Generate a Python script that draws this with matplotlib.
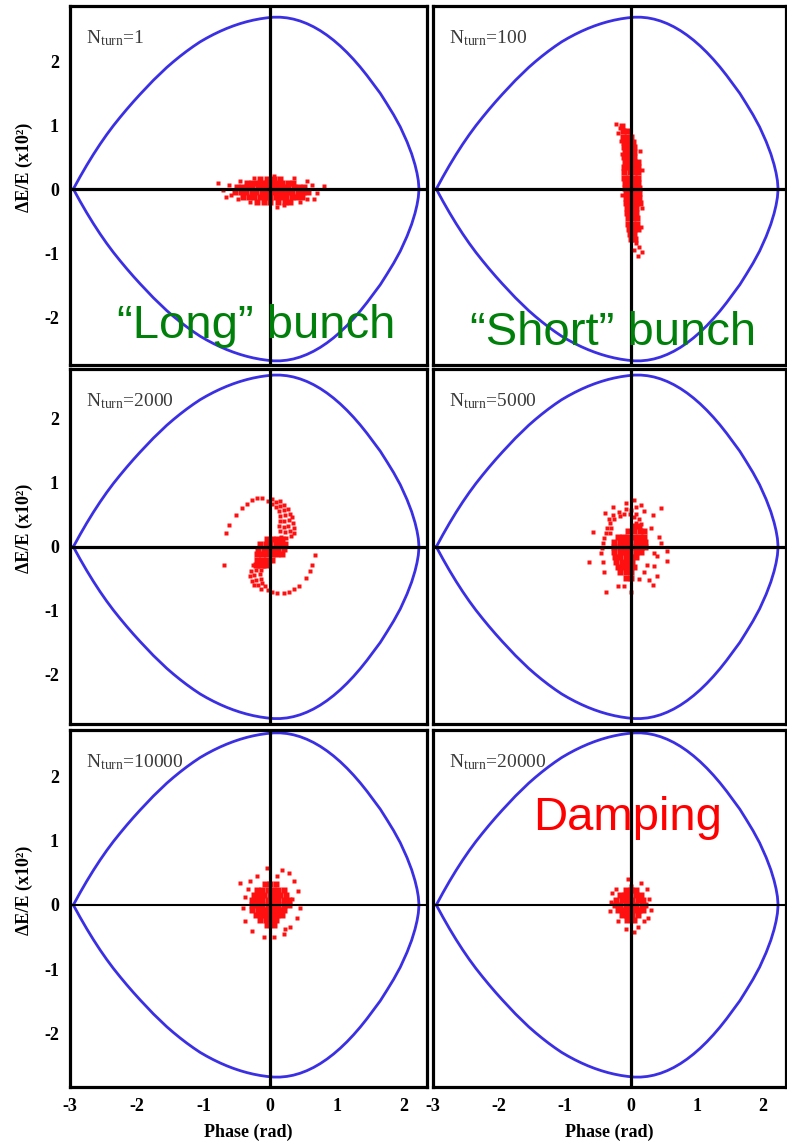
import matplotlib
matplotlib.use('Agg')
import matplotlib.pyplot as plt

plt.rcParams['mathtext.fontset'] = 'custom'
plt.rcParams['mathtext.rm'] = 'Liberation Serif'
plt.rcParams['mathtext.it'] = 'Liberation Serif:italic'
plt.rcParams['mathtext.bf'] = 'Liberation Serif:bold'
plt.rcParams['axes.unicode_minus'] = False

# ---------------- data ----------------
# Separatrix, upper half (phase [rad], dE/E [x1e-2]); lower half is its mirror
SEP_X = [-2.95, -2.85, -2.75, -2.65, -2.55, -2.45, -2.35, -2.25, -2.15, -2.05,
         -1.95, -1.85, -1.75, -1.65, -1.55, -1.45, -1.35, -1.25, -1.15, -1.05,
         -0.95, -0.85, -0.75, -0.65, -0.55, -0.45, -0.35, -0.25, -0.15, -0.05,
         0.05, 0.15, 0.25, 0.35, 0.45, 0.55, 0.65, 0.75, 0.85, 0.95,
         1.05, 1.15, 1.25, 1.35, 1.45, 1.55, 1.65, 1.75, 1.85, 1.95,
         2.05, 2.12, 2.17, 2.20, 2.22, 2.23]
SEP_Y = [0.00, 0.19, 0.37, 0.54, 0.70, 0.85, 0.99, 1.12, 1.245, 1.365,
         1.48, 1.59, 1.70, 1.80, 1.90, 1.99, 2.075, 2.155, 2.23, 2.30,
         2.36, 2.415, 2.465, 2.51, 2.55, 2.585, 2.615, 2.64, 2.66, 2.675,
         2.685, 2.685, 2.675, 2.655, 2.625, 2.585, 2.535, 2.475, 2.405, 2.325,
         2.235, 2.135, 2.025, 1.905, 1.775, 1.635, 1.495, 1.33, 1.16, 0.97,
         0.74, 0.55, 0.38, 0.25, 0.13, 0.00]

TURNS = [1, 100, 2000, 5000, 10000, 20000]
X_TICKS = [-3, -2, -1, 0, 1, 2]
Y_TICKS = [-2, -1, 0, 1, 2]

# dense cores: rows of (y, [x ...])
CORE_1 = [(0.16, [-0.15, -0.05, 0.05, 0.15]),
          (0.10, [-0.35, -0.27, -0.20, -0.12, -0.05, 0.03, 0.10, 0.18, 0.26, 0.34]),
          (0.03, [-0.50, -0.42, -0.34, -0.27, -0.19, -0.11, -0.04, 0.04, 0.11, 0.19, 0.27, 0.35, 0.43, 0.50]),
          (-0.05, [-0.52, -0.44, -0.36, -0.28, -0.21, -0.13, -0.05, 0.02, 0.10, 0.18, 0.25, 0.33, 0.41, 0.49, 0.57]),
          (-0.13, [-0.40, -0.32, -0.24, -0.16, -0.08, 0.00, 0.08, 0.16, 0.24, 0.32, 0.40, 0.47]),
          (-0.20, [-0.20, -0.10, 0.00, 0.12, 0.22, 0.30])]
SPARSE_1 = [(-0.78, 0.10), (-0.70, -0.02), (-0.62, 0.07), (-0.66, -0.12), (-0.58, -0.10),
            (0.62, 0.06), (0.70, -0.06), (0.80, 0.04), (0.66, -0.15), (0.55, 0.12),
            (0.45, -0.20), (0.10, -0.28), (-0.30, -0.20), (0.35, 0.17), (-0.45, 0.12),
            (0.05, 0.20), (-0.25, 0.17), (0.55, -0.16), (-0.48, -0.16), (0.20, -0.25)]

CORE_2 = [(0.98, [-0.14]), (0.90, [-0.12, -0.06]), (0.82, [-0.12, -0.05, 0.00]),
          (0.74, [-0.10, -0.03, 0.03]), (0.66, [-0.10, -0.03, 0.04]),
          (0.58, [-0.09, -0.02, 0.05]), (0.50, [-0.10, -0.03, 0.04]),
          (0.42, [-0.09, -0.02, 0.05, 0.10]), (0.34, [-0.10, -0.03, 0.04, 0.10]),
          (0.26, [-0.10, -0.02, 0.05, 0.11]), (0.18, [-0.10, -0.03, 0.04, 0.11]),
          (0.10, [-0.09, -0.02, 0.05, 0.11]), (0.02, [-0.09, -0.02, 0.05, 0.12]),
          (-0.06, [-0.08, -0.01, 0.06, 0.12]), (-0.14, [-0.08, -0.01, 0.06, 0.12]),
          (-0.22, [-0.07, 0.00, 0.07, 0.13]), (-0.30, [-0.06, 0.01, 0.08]),
          (-0.38, [-0.06, 0.01, 0.08]), (-0.46, [-0.05, 0.02, 0.09]),
          (-0.54, [-0.04, 0.03, 0.09]), (-0.62, [-0.03, 0.04, 0.10]),
          (-0.70, [-0.02, 0.05]), (-0.78, [0.00, 0.06])]
SPARSE_2 = [(-0.22, 1.02), (-0.17, 0.95), (-0.20, 0.88), (0.12, -0.90), (0.16, -0.98),
            (0.08, -0.85), (0.10, -1.05), (0.05, -0.95), (-0.15, 0.75), (0.15, -0.60),
            (-0.14, 0.55), (0.16, 0.30), (0.17, -0.30), (-0.13, -0.10), (0.14, 0.60)]

CORE_3 = [(0.12, [-0.05, 0.03, 0.10, 0.18]),
          (0.04, [-0.15, -0.07, 0.00, 0.08, 0.15, 0.22]),
          (-0.04, [-0.18, -0.10, -0.03, 0.05, 0.12, 0.20]),
          (-0.12, [-0.20, -0.12, -0.05, 0.03, 0.10, 0.17]),
          (-0.20, [-0.20, -0.12, -0.05, 0.02]),
          (-0.28, [-0.22, -0.14, -0.07])]
ARM_3 = [(0.16, 0.16), (0.24, 0.14), (0.31, 0.17), (0.36, 0.22),
         (0.14, 0.24), (0.22, 0.23), (0.29, 0.25), (0.35, 0.29),
         (0.13, 0.32), (0.20, 0.31), (0.27, 0.33), (0.34, 0.37),
         (0.14, 0.40), (0.21, 0.40), (0.28, 0.42), (0.33, 0.46),
         (0.15, 0.48), (0.22, 0.49), (0.29, 0.51),
         (0.13, 0.56), (0.20, 0.57), (0.26, 0.59),
         (0.08, 0.62), (0.15, 0.64), (0.21, 0.66),
         (0.02, 0.67), (0.08, 0.70), (0.14, 0.72), (-0.04, 0.72), (0.03, 0.75),
         (-0.10, -0.30), (-0.18, -0.30), (-0.26, -0.28),
         (-0.14, -0.36), (-0.22, -0.36), (-0.29, -0.38),
         (-0.16, -0.43), (-0.24, -0.44), (-0.30, -0.46),
         (-0.14, -0.50), (-0.21, -0.52), (-0.27, -0.54),
         (-0.12, -0.57), (-0.19, -0.60), (-0.24, -0.60),
         (-0.08, -0.62), (-0.14, -0.66), (-0.04, -0.68), (0.02, -0.71)]
SPARSE_3 = [(-0.12, 0.77), (-0.20, 0.76), (-0.27, 0.73), (-0.35, 0.67), (-0.42, 0.61),
            (-0.51, 0.50), (-0.61, 0.34), (-0.66, 0.22), (-0.69, -0.28),
            (0.10, -0.72), (0.20, -0.72), (0.28, -0.70), (0.36, -0.66),
            (0.43, -0.62), (0.54, -0.48), (0.60, -0.38), (0.63, -0.28), (0.67, -0.13)]

CORE_4 = [(0.32, [0.05, 0.12]), (0.24, [-0.05, 0.05, 0.13, 0.20]),
          (0.16, [-0.20, -0.12, -0.04, 0.04, 0.12, 0.20]),
          (0.08, [-0.25, -0.17, -0.09, -0.01, 0.07, 0.15, 0.22]),
          (0.00, [-0.25, -0.17, -0.09, -0.01, 0.07, 0.15, 0.22]),
          (-0.08, [-0.25, -0.17, -0.09, -0.01, 0.07, 0.15]),
          (-0.16, [-0.24, -0.16, -0.08, 0.00, 0.08]),
          (-0.24, [-0.22, -0.14, -0.06, 0.02]),
          (-0.32, [-0.20, -0.12, -0.04, 0.04]),
          (-0.40, [-0.16, -0.08, 0.00]), (-0.48, [-0.08, 0.00])]
ARM_4 = [(0.15, 0.36), (0.08, 0.38), (0.12, 0.44), (0.04, 0.46), (0.07, 0.52),
         (-0.02, 0.52), (0.00, 0.58), (-0.10, 0.52), (-0.08, 0.59), (-0.17, 0.48),
         (-0.18, 0.55), (-0.25, 0.44), (-0.27, 0.50), (-0.31, 0.37), (-0.34, 0.43),
         (-0.36, 0.30), (-0.38, 0.22), (-0.41, 0.14), (-0.42, 0.06), (-0.44, -0.02),
         (-0.30, 0.30), (-0.32, 0.22)]
SPARSE_4 = [(-0.27, 0.63), (-0.40, 0.53), (-0.08, 0.69), (0.05, 0.73), (0.15, 0.66), (0.33, 0.50),
            (0.45, 0.60), (0.42, 0.16), (0.45, 0.06), (0.55, -0.07), (0.55, -0.22), (0.40, -0.15),
            (0.35, -0.30), (0.40, -0.46), (0.33, -0.60), (0.20, -0.40), (0.12, -0.50), (0.27, -0.52),
            (-0.10, -0.62), (-0.20, -0.62), (-0.38, -0.70), (-0.41, -0.39), (-0.42, -0.23),
            (-0.63, -0.23), (-0.57, 0.23), (0.00, -0.70), (0.25, -0.28), (0.30, 0.30),
            (0.35, -0.10), (-0.45, -0.10), (0.08, 0.63), (0.20, 0.56)]

CORE_5 = [(0.32, [-0.08, 0.00, 0.08]),
          (0.24, [-0.20, -0.12, -0.04, 0.04, 0.12, 0.20]),
          (0.16, [-0.25, -0.17, -0.09, -0.01, 0.07, 0.15, 0.23]),
          (0.08, [-0.28, -0.20, -0.12, -0.04, 0.04, 0.12, 0.20, 0.28]),
          (0.00, [-0.28, -0.20, -0.12, -0.04, 0.04, 0.12, 0.20, 0.28]),
          (-0.08, [-0.27, -0.19, -0.11, -0.03, 0.05, 0.13, 0.21]),
          (-0.16, [-0.22, -0.14, -0.06, 0.02, 0.10, 0.18]),
          (-0.24, [-0.15, -0.07, 0.01, 0.09]), (-0.32, [-0.05, 0.05])]
SPARSE_5 = [(-0.45, 0.35), (-0.30, 0.38), (-0.20, 0.45), (0.18, 0.55), (0.28, 0.50), (0.35, 0.38),
            (0.42, 0.22), (0.45, -0.05), (0.40, -0.20), (0.30, -0.35), (0.20, -0.45), (0.05, -0.50),
            (-0.10, -0.50), (-0.28, -0.40), (-0.38, -0.25), (-0.40, -0.05), (-0.38, 0.12),
            (0.10, 0.45), (-0.05, 0.58), (0.32, 0.10), (-0.33, 0.25), (0.22, -0.38)]

CORE_6 = [(0.24, [-0.08, 0.00, 0.08]), (0.16, [-0.17, -0.09, -0.01, 0.07, 0.15]),
          (0.08, [-0.22, -0.14, -0.06, 0.02, 0.10, 0.18]),
          (0.00, [-0.24, -0.16, -0.08, 0.00, 0.08, 0.16, 0.22]),
          (-0.08, [-0.20, -0.12, -0.04, 0.04, 0.12, 0.18]),
          (-0.16, [-0.14, -0.06, 0.02, 0.10]), (-0.24, [-0.06, 0.04])]
SPARSE_6 = [(-0.30, 0.05), (-0.32, -0.10), (0.28, 0.10), (0.30, -0.08), (0.25, 0.25), (-0.22, 0.25),
            (0.15, 0.35), (-0.05, 0.40), (0.00, 0.30), (0.20, -0.25), (-0.20, -0.25), (0.10, -0.35),
            (-0.08, -0.38), (0.05, -0.42), (-0.28, 0.18), (0.26, -0.20)]

CORES = [CORE_1, CORE_2, CORE_3, CORE_4, CORE_5, CORE_6]
ARMS = [[], [], ARM_3, ARM_4, [], []]
SPARSES = [SPARSE_1, SPARSE_2, SPARSE_3, SPARSE_4, SPARSE_5, SPARSE_6]

# ---------------- layout ----------------
W, H = 787, 1143
fig = plt.figure(figsize=(W / 100, H / 100), dpi=100)
fig.patch.set_facecolor('white')

col_px = [(70, 427), (433, 786)]
row_px = [(6, 365), (369, 724), (730, 1087)]
row_ylim = [(-2.75, 2.86), (-2.77, 2.78), (-2.84, 2.73)]

SEP_COLOR = '#3b2fe4'
RED = '#ff1010'
SERIF = 'Liberation Serif'

sep_x = SEP_X + SEP_X[::-1]
sep_y = SEP_Y + [-v for v in SEP_Y[::-1]]

for i in range(6):
    r, c = divmod(i, 2)
    x0, x1 = col_px[c]
    t, b = row_px[r]
    ax = fig.add_axes([x0 / W, 1 - b / H, (x1 - x0) / W, (b - t) / H])
    ax.set_xlim(-3, 2.35)
    ax.set_ylim(*row_ylim[r])
    for s in ax.spines.values():
        s.set_linewidth(2.3)
        s.set_color('black')
    ax.set_xticks(X_TICKS)
    ax.set_yticks(Y_TICKS)
    ax.tick_params(length=0, pad=8, labelsize=13)
    for lab in ax.get_xticklabels() + ax.get_yticklabels():
        lab.set_fontfamily(SERIF)
        lab.set_fontweight('bold')
    if r < 2:
        ax.set_xticklabels([])
    else:
        ax.set_xlabel('Phase (rad)', fontfamily=SERIF, fontweight='bold', fontsize=13, labelpad=6)
    if c > 0:
        ax.set_yticklabels([])
    else:
        ax.set_ylabel('ΔE/E (x10²)', fontfamily=SERIF, fontweight='bold', fontsize=13)
        ax.yaxis.set_label_coords(-0.105, 0.55)

    # separatrix
    ax.plot(sep_x, sep_y, color=SEP_COLOR, lw=2.0, zorder=2, solid_joinstyle='round')

    # particles
    cx, cy = [], []
    for yv, xs in CORES[i]:
        for xv in xs:
            cx.append(xv)
            cy.append(yv)
    ax.plot(cx, cy, ls='none', marker='s', ms=4.2, mec='none', mfc=RED, zorder=3)
    if ARMS[i]:
        ax.plot([p[0] for p in ARMS[i]], [p[1] for p in ARMS[i]], ls='none', marker='s',
                ms=3.4, mec='none', mfc=RED, zorder=3)
    ax.plot([p[0] for p in SPARSES[i]], [p[1] for p in SPARSES[i]], ls='none', marker='s',
            ms=2.2, mec='none', mfc=RED, zorder=3)

    # zero axes lines
    ax.axvline(0, color='black', lw=2.3, zorder=4)
    ax.axhline(0, color='black', lw=2.3 if r < 2 else 1.5, zorder=4)

    ax.text(0.045, 0.91, r'N$_{\mathrm{turn}}$=' + str(TURNS[i]), transform=ax.transAxes,
            fontfamily=SERIF, fontsize=14, color='#3a3a3a', va='center', ha='left', zorder=5)

# annotations
fig.text(117 / W, 1 - 338 / H, '\u201cLong\u201d bunch', fontfamily='Liberation Sans',
         fontsize=34, color='#00800a', ha='left', va='baseline')
fig.text(470 / W, 1 - 345 / H, '\u201cShort\u201d bunch', fontfamily='Liberation Sans',
         fontsize=34, color='#00800a', ha='left', va='baseline')
fig.text(533 / W, 1 - 830 / H, 'Damping', fontfamily='Liberation Sans',
         fontsize=34, color='#ff0000', ha='left', va='baseline')

fig.savefig('out.png', dpi=100, facecolor='white')
